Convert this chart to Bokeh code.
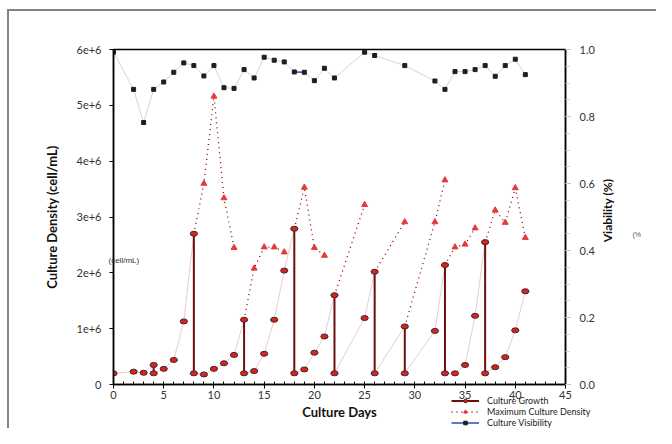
import math
import numpy as np
from bokeh.plotting import figure
from bokeh.layouts import column
from bokeh.models import (Range1d, LinearAxis, Legend, LegendItem, Label,
                          SingleIntervalTicker, NumeralTickFormatter)
from bokeh.core.properties import value
from bokeh.embed import file_html
from bokeh.resources import INLINE

# ---------------- data ----------------
# Culture growth (cell/mL, in millions); repeated day = passage (top -> bottom)
growth_days = [0, 2, 3, 4, 4, 5, 6, 7, 8, 8, 9, 10, 11, 12, 13, 13, 14, 15, 16, 17,
               18, 18, 19, 20, 21, 22, 22, 25, 26, 26, 29, 29, 32, 33, 33, 34, 35, 36,
               37, 37, 38, 39, 40, 41]
growth_vals = [0.20, 0.23, 0.21, 0.35, 0.20, 0.28, 0.44, 1.13, 2.70, 0.20, 0.18, 0.28,
               0.38, 0.53, 1.16, 0.20, 0.24, 0.55, 1.16, 2.04, 2.79, 0.20, 0.27, 0.57,
               0.86, 1.60, 0.20, 1.19, 2.02, 0.20, 1.04, 0.20, 0.96, 2.14, 0.20, 0.20,
               0.35, 1.23, 2.55, 0.20, 0.31, 0.49, 0.97, 1.67]

# Maximum culture density (millions)
max_days = [9, 10, 11, 12, 14, 15, 16, 17, 19, 20, 21, 25, 29, 32, 33, 34, 35, 36,
            38, 39, 40, 41]
max_vals = [3.60, 5.16, 3.34, 2.45, 2.08, 2.46, 2.46, 2.37, 3.53, 2.45, 2.31, 3.22,
            2.91, 2.91, 3.66, 2.46, 2.51, 2.80, 3.12, 2.90, 3.52, 2.63]

# Culture viability (fraction)
via_days = [0, 2, 3, 4, 5, 6, 7, 8, 9, 10, 11, 12, 13, 14, 15, 16, 17, 18, 19, 20,
            21, 22, 25, 26, 29, 32, 33, 34, 35, 36, 37, 38, 39, 40, 41]
via_vals = [0.992, 0.881, 0.782, 0.881, 0.903, 0.932, 0.960, 0.952, 0.921, 0.952,
            0.886, 0.884, 0.940, 0.915, 0.977, 0.968, 0.963, 0.933, 0.932, 0.907,
            0.944, 0.915, 0.992, 0.982, 0.952, 0.906, 0.881, 0.934, 0.934, 0.940,
            0.952, 0.920, 0.952, 0.971, 0.925]

density_ticks = [0, 1000000, 2000000, 3000000, 4000000, 5000000, 6000000]
density_labels = ["0", "1e+6", "2e+6", "3e+6", "4e+6", "5e+6", "6e+6"]

series_names = ["Culture Growth", "Maximum Culture Density", "Culture Visibility"]

SCALE = 1e6
FONT = "Lato"
W, H = 656, 428

gy = [v * SCALE for v in growth_vals]
my = [v * SCALE for v in max_vals]

# passages: consecutive equal days in growth series
pass_x, pass_y0, pass_y1 = [], [], []
for i in range(len(growth_days) - 1):
    if growth_days[i] == growth_days[i + 1]:
        pass_x.append(growth_days[i])
        pass_y0.append(gy[i])
        pass_y1.append(gy[i + 1])

# dotted max-density paths: from passage top through following maxima
mx_lines, my_lines = [], []
for k, d in enumerate(pass_x):
    nxt = pass_x[k + 1] if k + 1 < len(pass_x) else 1e9
    xs = [d]
    ys = [pass_y0[k]]
    for dd, vv in zip(max_days, my):
        if d < dd <= nxt:
            xs.append(dd)
            ys.append(vv)
    if len(xs) > 1:
        mx_lines.append(xs)
        my_lines.append(ys)

# ---------------- main figure ----------------
p = figure(width=W, height=H, x_range=Range1d(0, 45), y_range=Range1d(0, 6e6),
           output_backend="svg", toolbar_location=None,
           min_border_left=113, min_border_right=91, min_border_top=49,
           min_border_bottom=44, background_fill_color="white",
           border_fill_color=None)
p.styles = {"background": "linear-gradient(#80858a,#80858a) 7px 9px / 2px 100% no-repeat, "
                          "linear-gradient(#80858a,#80858a) 7px 9px / 100% 2px no-repeat, "
                          "#ffffff"}
p.xgrid.visible = False
p.ygrid.visible = False
p.outline_line_color = "black"
p.outline_line_width = 1.5

p.extra_y_ranges = {"via": Range1d(0, 1)}

# bottom axis
xa = p.xaxis[0]
xa.ticker = SingleIntervalTicker(interval=5, num_minor_ticks=5)
xa.axis_label = "Culture Days"
xa.axis_label_text_font = FONT
xa.axis_label_text_font_style = "bold"
xa.axis_label_text_font_size = "13px"
xa.axis_label_text_color = "#111"
xa.axis_label_standoff = 2
xa.major_label_text_font = FONT
xa.major_label_text_font_size = "11px"
xa.major_label_text_color = "#333"
xa.major_label_standoff = 2
xa.major_tick_in = 0
xa.major_tick_out = 4
xa.minor_tick_in = 3
xa.minor_tick_out = 0
xa.axis_line_width = 1.5

# left axis
ya = p.yaxis[0]
ya.ticker = density_ticks
ya.major_label_overrides = {t: l for t, l in zip(density_ticks, density_labels)}
ya.axis_label = "Culture Density (cell/mL)"
ya.axis_label_text_font = FONT
ya.axis_label_text_font_style = "bold"
ya.axis_label_text_font_size = "13px"
ya.axis_label_text_color = "#111"
ya.axis_label_standoff = 14
ya.major_label_text_font = FONT
ya.major_label_text_font_size = "11px"
ya.major_label_text_color = "#333"
ya.major_label_standoff = 8
ya.major_tick_in = 0
ya.major_tick_out = 4
ya.minor_tick_line_color = None
ya.axis_line_width = 1.5

# right axis (its title is drawn on the overlay, reading upward)
ra = LinearAxis(y_range_name="via",
                ticker=SingleIntervalTicker(interval=0.2, num_minor_ticks=4),
                formatter=NumeralTickFormatter(format="0.0"))
ra.major_label_text_font = FONT
ra.major_label_text_font_size = "11px"
ra.major_label_text_color = "#333"
ra.major_label_standoff = 9
ra.major_tick_in = 0
ra.major_tick_out = 5
ra.major_tick_line_color = "#999"
ra.minor_tick_in = 0
ra.minor_tick_out = 4
ra.minor_tick_line_color = "#ccc"
ra.axis_line_width = 1.5
p.add_layout(ra, "right")

# viability
p.line(via_days, via_vals, y_range_name="via", line_color="#cfd2ea", line_width=1)
i18 = via_days.index(18)
p.line(via_days[i18:i18 + 2], via_vals[i18:i18 + 2], y_range_name="via",
       line_color="#3a55b0", line_width=1.5)
p.scatter(via_days, via_vals, y_range_name="via", marker="square", size=4,
          fill_color="#1e1e1e", line_color="#1e1e1e")

# growth
p.line(growth_days, gy, line_color="#e8cccc", line_width=1)
p.multi_line(mx_lines, my_lines, line_color="#8b0000", line_width=1.3,
             line_dash="1 4")
p.segment(pass_x, pass_y0, pass_x, pass_y1, line_color="#6b0f0f", line_width=2)
p.scatter(max_days, my, marker="triangle", size=6, fill_color="#e63a3a",
          line_color="#e63a3a")
p.ellipse(growth_days, gy, width=0.72, height=0.09e6, fill_color="#e01f1f",
          line_color="#3a2a2a", line_width=1)

# ---------------- transparent overlay figure (legend + loose texts) ----------
# its ranges keep the proxy series out of view; only the legend shows them
q = figure(width=W, height=H, x_axis_type=None, y_axis_type=None,
           x_range=Range1d(1000, 1001), y_range=Range1d(0, 1),
           output_backend="svg", toolbar_location=None,
           min_border=0, min_border_left=0, min_border_right=0,
           min_border_top=0, min_border_bottom=0,
           background_fill_color=None, border_fill_color=None)
q.outline_line_color = None
q.xgrid.visible = False
q.ygrid.visible = False
q.margin = (-H, 0, 0, 0)
for fig in (p, q):
    try:
        fig.frame_align = False
    except Exception:
        pass

r1l = q.line(growth_days, gy, line_color="#6b0f0f", line_width=2)
r1m = q.scatter(growth_days, gy, marker="circle", size=6, fill_color="#e01f1f",
                line_color="#3a2a2a")
r2l = q.line(max_days, my, line_color="#8b0000", line_width=1.5, line_dash="1 4")
r2m = q.scatter(max_days, my, marker="triangle", size=6, fill_color="#e23030",
                line_color="#e23030")
r3l = q.line(via_days, via_vals, line_color="#2a4bb0", line_width=1.5)
r3m = q.scatter(via_days, via_vals, marker="square", size=4, fill_color="#1e1e1e",
                line_color="#1e1e1e")

legend = Legend(items=[LegendItem(label=series_names[0], renderers=[r1l, r1m]),
                       LegendItem(label=series_names[1], renderers=[r2l, r2m]),
                       LegendItem(label=series_names[2], renderers=[r3l, r3m])],
                location=(451, 0), orientation="vertical",
                border_line_color=None, background_fill_alpha=0,
                padding=0, spacing=0, margin=0,
                glyph_width=28, glyph_height=9, label_height=9,
                label_standoff=8, label_text_font=FONT,
                label_text_font_size="9px", label_text_color="#222",
                label_text_line_height=1.0)
q.add_layout(legend)

# right axis title, reading upward
q.add_layout(Label(x=607, y=H - 210, x_units="screen", y_units="screen",
                   text="Viability (%)", angle=math.pi / 2,
                   text_font=FONT, text_font_style="bold",
                   text_font_size="12px", text_color="#111",
                   text_align="center", text_baseline="middle"))

# stray fragments visible in the original
q.add_layout(Label(x=108, y=H - 260, x_units="screen", y_units="screen",
                   text="(cell/mL)", text_font="Liberation Sans",
                   text_font_size="8px", text_color="#333",
                   text_baseline="middle"))
q.add_layout(Label(x=632, y=H - 234, x_units="screen", y_units="screen",
                   text="(%", text_font="Liberation Sans",
                   text_font_size="7px", text_color="#555",
                   text_baseline="middle"))

layout = column(p, q, spacing=0)
open("out.html", "w").write(file_html(layout, INLINE))
